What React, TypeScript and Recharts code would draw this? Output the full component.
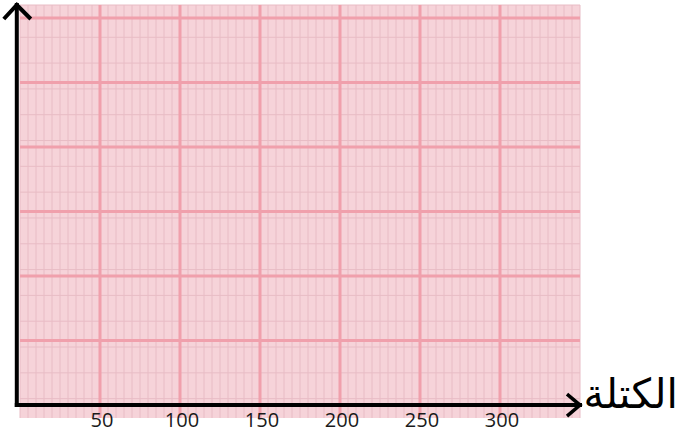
import React from 'react';
import { ComposedChart, XAxis, YAxis, CartesianGrid, ReferenceLine, Scatter } from 'recharts';

const xTickLabels = [50, 100, 150, 200, 250, 300];
const xMajorLines = [50, 100, 150, 200, 250, 300];
const yMajorLines = [10, 20, 30, 40, 50, 60];
const xMinorLines = Array.from({ length: 71 }, (_, i) => i * 5);
const yMinorLines = Array.from({ length: 65 }, (_, i) => i - 2);
const xDomain: [number, number] = [0, 350];
const yDomain: [number, number] = [-2, 62];
const xAxisTitle = 'الكتلة';
const points: { x: number; y: number }[] = [];

const XTick = (props: any) => {
  const { x, y, payload } = props;
  return (
    <text x={x + 2} y={y} dy={9} textAnchor="middle" fontSize={20} fill="#1a1a1a" fontFamily="'Open Sans', sans-serif">
      {payload.value}
    </text>
  );
};

const XArrow = (props: any) => {
  const { x1, y1, x2, y2 } = props;
  return (
    <g>
      <line x1={x1} y1={y1} x2={x2} y2={y2} stroke="#000" strokeWidth={4} strokeLinecap="square" />
      <polyline
        points={`${x2 - 13},${y2 - 11} ${x2},${y2} ${x2 - 13},${y2 + 11}`}
        fill="none"
        stroke="#000"
        strokeWidth={3.5}
        strokeLinejoin="miter"
      />
      <text x={x2 + 98} y={y2 + 3} textAnchor="end" fontSize={41} fill="#000" fontFamily="'DejaVu Sans', sans-serif">
        {xAxisTitle}
      </text>
    </g>
  );
};

const YArrow = (props: any) => {
  const { x1, y1, x2, y2 } = props;
  const tx = x2;
  const ty = Math.min(y1, y2);
  const by = Math.max(y1, y2);
  return (
    <g>
      <line x1={tx} y1={by} x2={tx} y2={ty} stroke="#000" strokeWidth={4} strokeLinecap="square" />
      <polyline
        points={`${tx - 13},${ty + 14} ${tx},${ty} ${tx + 14},${ty + 14}`}
        fill="none"
        stroke="#000"
        strokeWidth={4}
      />
    </g>
  );
};

export default function App() {
  return (
    <div style={{ position: 'absolute', left: 0, top: 0, width: 681, height: 433, background: '#fff' }}>
      <ComposedChart width={681} height={433} margin={{ top: 5, right: 101, bottom: 0, left: 20 }} data={points}>
        <CartesianGrid
          horizontalValues={yMinorLines}
          verticalValues={xMinorLines}
          stroke="#e8bcc5"
          strokeWidth={1}
          fill="#f6d3d9"
          fillOpacity={1}
        />
        <CartesianGrid horizontalValues={yMajorLines} verticalValues={xMajorLines} stroke="#f0a0ac" strokeWidth={3} />
        <XAxis
          type="number"
          dataKey="x"
          domain={xDomain}
          ticks={xTickLabels}
          axisLine={false}
          tickLine={false}
          tickSize={0}
          tickMargin={0}
          height={15}
          tick={<XTick />}
          interval={0}
          allowDataOverflow
        />
        <YAxis type="number" dataKey="y" domain={yDomain} hide width={0} allowDataOverflow />
        <Scatter data={points} dataKey="y" isAnimationActive={false} />
        <ReferenceLine segment={[{ x: -2, y: 0 }, { x: 350, y: 0 }]} ifOverflow="visible" shape={<XArrow />} />
        <ReferenceLine segment={[{ x: -2, y: 0 }, { x: -2, y: 62 }]} ifOverflow="visible" shape={<YArrow />} />
      </ComposedChart>
    </div>
  );
}
